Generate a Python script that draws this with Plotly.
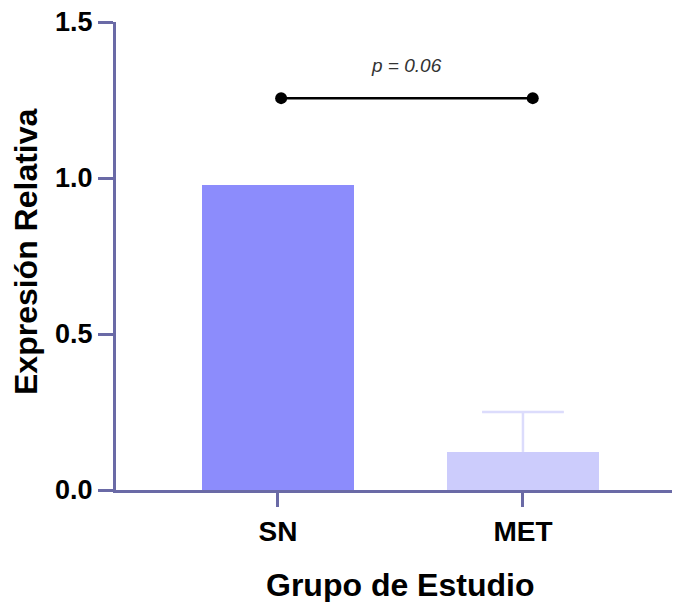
import plotly.graph_objects as go

groups = ["SN", "MET"]
group_pos = [0, 1]
means = [0.978, 0.122]
err_upper = [None, 0.128]
bar_colors = ["#8c8cfc", "#ccccfc"]
err_color = "#dcdcfc"
y_ticks = [0.0, 0.5, 1.0, 1.5]
y_tick_labels = ["0.0", "0.5", "1.0", "1.5"]
sig_x = [0.013, 1.04]
sig_y = [1.256, 1.256]
sig_label = "p = 0.06"
sig_label_y = 1.362

axis_color = "#6a6aa6"
font_family = "Liberation Sans, Arial, sans-serif"
cap_half = 0.167  # cap half-width in category units

fig = go.Figure()

fig.add_trace(go.Bar(
    x=group_pos, y=means, width=0.62,
    marker=dict(color=bar_colors, line=dict(width=0)),
    showlegend=False,
))

# upper-only error bars (stem from bar top + cap), built from the data
ex, ey = [], []
for p, m, e in zip(group_pos, means, err_upper):
    if e is None:
        continue
    ex += [p - cap_half, p + cap_half, None, p, p, None]
    ey += [m + e, m + e, None, m + e, m, None]
fig.add_trace(go.Scatter(
    x=ex, y=ey, mode="lines", line=dict(color=err_color, width=2.5),
    showlegend=False, hoverinfo="skip",
))

fig.add_trace(go.Scatter(
    x=sig_x, y=sig_y, mode="lines+markers",
    line=dict(color="black", width=2.5),
    marker=dict(color="black", size=12),
    showlegend=False, hoverinfo="skip",
))

fig.add_annotation(
    x=(sig_x[0] + sig_x[1]) / 2, y=sig_label_y, xref="x", yref="y",
    text="<i>" + sig_label + "</i>", showarrow=False,
    font=dict(family=font_family, size=19, color="#333333"),
)

fig.add_annotation(
    x=0, y=0.5, xref="paper", yref="paper", xshift=-90, yshift=4,
    xanchor="center", yanchor="middle",
    text="<b>Expresión Relativa</b>", textangle=-90, showarrow=False,
    font=dict(family=font_family, size=32, color="black"),
)
fig.add_annotation(
    x=0.5 * (group_pos[0] + group_pos[1]), y=0, xref="x", yref="paper", yshift=-95,
    xanchor="center", yanchor="middle",
    text="<b>Grupo de Estudio</b>", showarrow=False,
    font=dict(family=font_family, size=32, color="black"),
)

fig.update_layout(
    width=672, height=594,
    margin=dict(l=108, r=0, t=14, b=112, autoexpand=False),
    plot_bgcolor="white", paper_bgcolor="white",
    bargap=0,
)
fig.update_xaxes(
    range=[-0.661, 1.641], tickvals=group_pos, ticktext=["<b>%s</b>" % g for g in groups],
    showline=True, linecolor=axis_color, linewidth=3,
    ticks="outside", ticklen=14, tickwidth=3, tickcolor=axis_color,
    tickfont=dict(family=font_family, size=28, color="black"),
    showgrid=False, zeroline=False, fixedrange=True, automargin=False,
    ticklabeloverflow="allow",
)
fig.update_yaxes(
    range=[0, 1.5], tickvals=y_ticks, ticktext=["<b>%s</b>" % t for t in y_tick_labels],
    showline=True, linecolor=axis_color, linewidth=3,
    ticks="outside", ticklen=15, tickwidth=3, tickcolor=axis_color,
    tickfont=dict(family=font_family, size=27, color="black"),
    showgrid=False, zeroline=False, fixedrange=True, automargin=False,
    ticklabeloverflow="allow",
)

fig.write_html("out.html")
